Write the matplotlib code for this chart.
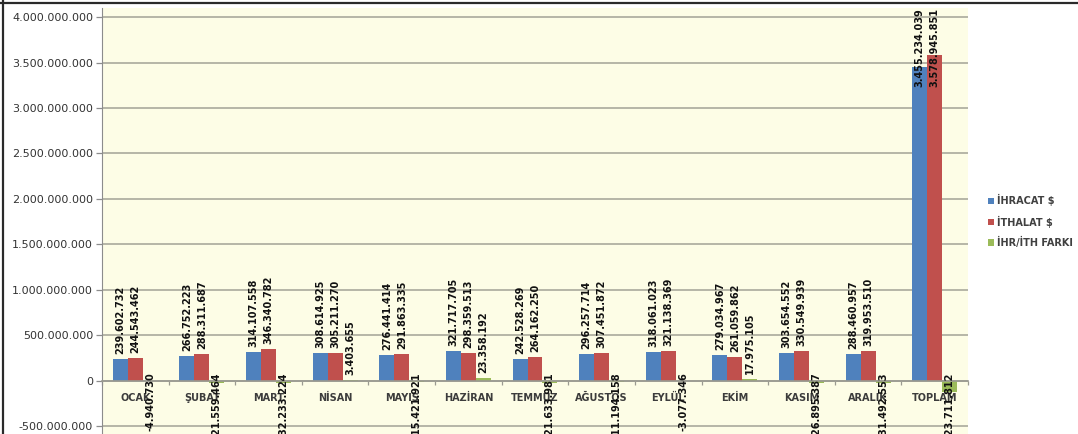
import matplotlib
matplotlib.use("Agg")
import matplotlib.pyplot as plt
from matplotlib.lines import Line2D
from matplotlib.ticker import FixedLocator, FuncFormatter
import numpy as np


months = ["OCAK", "ŞUBAT", "MART", "NİSAN", "MAYIS", "HAZİRAN", "TEMMUZ",
          "AĞUSTOS", "EYLÜL", "EKİM", "KASIM", "ARALIK", "TOPLAM"]

ihracat = [239602732, 266752223, 314107558, 308614925, 276441414, 321717705,
           242528269, 296257714, 318061023, 279034967, 303654552, 288460957,
           3455234039]
ithalat = [244543462, 288311687, 346340782, 305211270, 291863335, 298359513,
           264162250, 307451872, 321138369, 261059862, 330549939, 319953510,
           3578945851]
fark = [-4940730, -21559464, -32233224, 3403655, -15421921, 23358192,
        -21633981, -11194158, -3077346, 17975105, -26895387, -31492553,
        -123711812]

series_names = ["İHRACAT $", "İTHALAT $", "İHR/İTH FARKI"]
colors = ["#4f81bd", "#c0504d", "#9bbb59"]


def dotted(v):
    return f"{int(round(v)):,}".replace(",", ".")


W, H = 1078, 434
fig = plt.figure(figsize=(W / 100, H / 100), dpi=100, facecolor="white")
ax = fig.add_axes([102 / W, 0, 866 / W, (H - 8) / H])
ax.set_facecolor("#fdfde6")

x = np.arange(len(months))
w = 0.225
bars = []
for k, (vals, col) in enumerate(zip([ihracat, ithalat, fark], colors)):
    bars.append(ax.bar(x + (k - 1) * w, vals, w, color=col, zorder=3))

ax.set_xlim(-0.5, len(months) - 0.5)
ax.set_ylim(-5.88e8, 4.1e9)

# value axis
yt = np.arange(-5e8, 4.0e9 + 1, 5e8)
ax.yaxis.set_major_locator(FixedLocator(yt))
ax.yaxis.set_major_formatter(FuncFormatter(lambda v, p: dotted(v)))
ax.yaxis.grid(True, color="#b0b0a2", lw=1.3, zorder=0)
ax.tick_params(axis="y", length=4.5, width=0.9, color="#8c8c8c", pad=2,
               labelsize=8, labelcolor="#333333")

# category axis crossing at zero
ax.spines["bottom"].set_position(("data", 0))
ax.spines["bottom"].set_color("#9a9a90")
ax.spines["bottom"].set_linewidth(1.2)
ax.spines["bottom"].set_zorder(4)
ax.spines["left"].set_color("#8c8c8c")
ax.spines["top"].set_visible(False)
ax.spines["right"].set_visible(False)
ax.set_xticks(x)
ax.set_xticklabels(months, fontsize=7, fontweight="bold", color="#3c3c3c")
ax.set_xticks(np.arange(-0.5, len(months)), minor=True)
ax.tick_params(axis="x", which="major", length=0, pad=9)
ax.tick_params(axis="x", which="minor", length=3, width=0.9, color="#9a9a90")

# data labels
lbl = dict(rotation=90, ha="center", fontsize=7, fontweight="bold",
           color="#111111", zorder=5, annotation_clip=False)
for k, vals in enumerate([ihracat, ithalat, fark]):
    for i, v in enumerate(vals):
        xi = x[i] + (k - 1) * w
        if v > 3e9:
            ax.annotate(dotted(v), xy=(xi, 1.0), xycoords=ax.get_xaxis_transform(),
                        va="top", **lbl)
        elif v >= 0:
            ax.annotate(dotted(v), xy=(xi, v), xytext=(0, 5),
                        textcoords="offset pixels", va="bottom", **lbl)
        else:
            ax.annotate(dotted(v), xy=(xi, 0), xytext=(0, 8),
                        textcoords="offset pixels", va="top", **lbl)

fig.legend([b for b in bars], series_names, loc="center left",
           bbox_to_anchor=(983 / W, 1 - 221 / H), frameon=False,
           handlelength=0.6, handleheight=0.6, handletextpad=0.35,
           labelspacing=0.95, borderpad=0,
           prop={"size": 7, "weight": "bold"}, labelcolor="#404040")

# chart frame (top and left edges)
fig.add_artist(Line2D([0, 1], [1 - 2.5 / H] * 2, transform=fig.transFigure,
                      color="#2a2a2a", lw=1.6))
fig.add_artist(Line2D([2.5 / W] * 2, [0, 1], transform=fig.transFigure,
                      color="#2a2a2a", lw=1.6))

fig.savefig("out.png", dpi=100, facecolor="white")
